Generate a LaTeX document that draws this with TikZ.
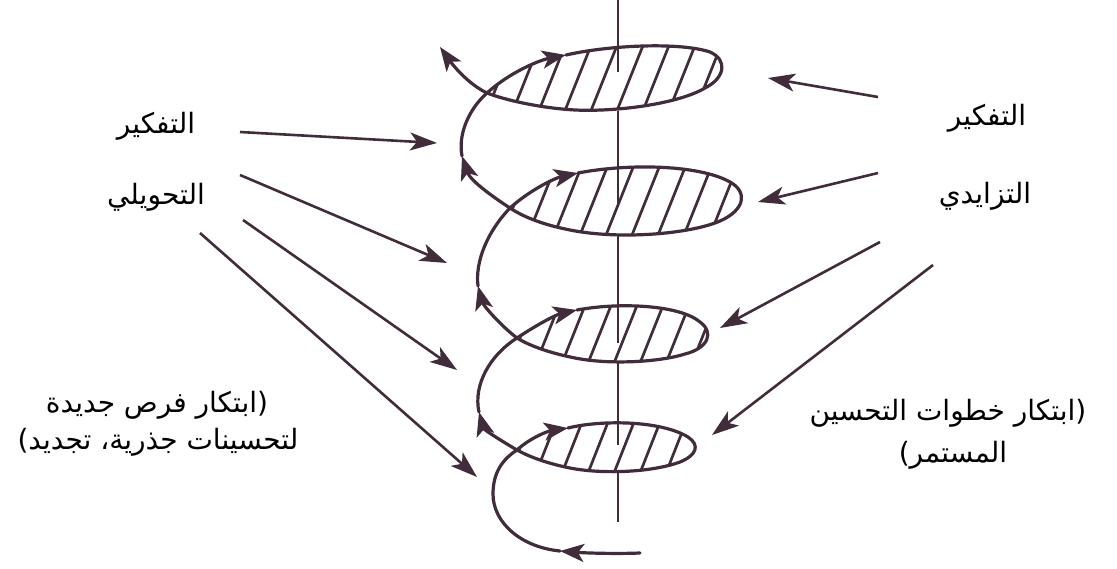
\documentclass[tikz,border=0pt]{standalone}
\usepackage{fontspec}
\newfontfamily\arabicfont[Script=Arabic]{DejaVu Sans}
\TeXXeTstate=1
\usetikzlibrary{arrows.meta}
\definecolor{ink}{RGB}{64,44,58}
\begin{document}
\begin{tikzpicture}[x=1pt,y=-1pt,
  inkline/.style={draw=ink, line width=3.2pt, line cap=round, line join=round},
  feed/.style={draw=ink, line width=2.6pt, -{Stealth[length=27pt,width=18pt,inset=7pt]}},
  flow/.style={inkline, -{Stealth[length=24pt,width=18pt,inset=6pt]}},
  hatch/.style={draw=ink, line width=2.7pt},
  axisline/.style={draw=ink, line width=2.6pt},
  lbl/.style={inner sep=0pt, text=black, font=\arabicfont\fontsize{28}{34}\selectfont}]

\fill[white] (0,0) rectangle (1117,568);
\useasboundingbox (0,0) rectangle (1117,568);

% ---- key points of the spiral
\coordinate (X1) at (487,93);
\coordinate (X2) at (510,208);
\coordinate (X3) at (517,338);
\coordinate (X4) at (517,450);
\coordinate (T1) at (566,55);
\coordinate (T2) at (578,173);
\coordinate (T3) at (577,310);
\coordinate (T4) at (568,428);
\coordinate (U1) at (440,47);
\coordinate (U2) at (462,156);
\coordinate (U3) at (478,286);
\coordinate (U4) at (479,412);
\coordinate (S0) at (640,553);
\coordinate (S1) at (560,551);

% ---- axis
\draw[axisline] (618,0) -- (618,72);
\draw[axisline] (618,111) -- (618,207);
\draw[axisline] (618,236) -- (618,343);
\draw[axisline] (618,363) -- (618,445);
\draw[axisline] (618,473) -- (618,522);

% ---- hatching
\begin{scope}
\clip (X1) .. controls (510,72) and (540,60) .. (T1) .. controls (610,45) and (680,42) .. (710,52) .. controls (728,60) and (725,78) .. (705,88) .. controls (680,103) and (620,112) .. (575,110) .. controls (540,108) and (505,100) .. (X1) -- cycle;
\foreach \x in {484,510,...,740} \draw[hatch] (\x,118) -- ++(32,-80);
\end{scope}
\begin{scope}
\clip (X2) .. controls (530,190) and (555,178) .. (T2) .. controls (630,163) and (700,165) .. (730,182) .. controls (748,192) and (745,210) .. (720,221) .. controls (690,234) and (620,240) .. (570,230) .. controls (545,225) and (525,218) .. (X2) -- cycle;
\foreach \x in {500,526,...,760} \draw[hatch] (\x,240) -- ++(32,-80);
\end{scope}
\begin{scope}
\clip (X3) .. controls (535,326) and (555,315) .. (T3) .. controls (620,302) and (680,305) .. (700,322) .. controls (714,332) and (709,348) .. (685,354) .. controls (660,362) and (610,365) .. (575,358) .. controls (550,353) and (530,346) .. (X3) -- cycle;
\foreach \x in {508,534,...,730} \draw[hatch] (\x,368) -- ++(28,-70);
\end{scope}
\begin{scope}
\clip (X4) .. controls (530,438) and (548,431) .. (T4) .. controls (600,420) and (660,420) .. (688,437) .. controls (700,445) and (697,455) .. (680,462) .. controls (650,473) and (600,474) .. (570,468) .. controls (545,463) and (528,456) .. (X4) -- cycle;
\foreach \x in {508,534,...,720} \draw[hatch] (\x,478) -- ++(26,-66);
\end{scope}

% ---- spiral
\draw[flow] (S0) .. controls (615,554) and (585,553) .. (S1);
\draw[flow] (S1) .. controls (520,547) and (493,522) .. (493,494) .. controls (493,472) and (503,459) .. (X4) .. controls (530,438) and (548,431) .. (T4);
\draw[flow] (T4) .. controls (600,420) and (660,420) .. (688,437) .. controls (700,445) and (697,455) .. (680,462) .. controls (650,473) and (600,474) .. (570,468) .. controls (545,463) and (528,456) .. (X4) .. controls (505,443) and (484,430) .. (U4);
\draw[flow] (U4) .. controls (473,385) and (490,355) .. (X3) .. controls (535,326) and (555,315) .. (T3);
\draw[flow] (T3) .. controls (620,302) and (680,305) .. (700,322) .. controls (714,332) and (709,348) .. (685,354) .. controls (660,362) and (610,365) .. (575,358) .. controls (550,353) and (530,346) .. (X3) .. controls (500,325) and (483,305) .. (U3);
\draw[flow] (U3) .. controls (475,262) and (487,232) .. (X2) .. controls (530,190) and (555,178) .. (T2);
\draw[flow] (T2) .. controls (630,163) and (700,165) .. (730,182) .. controls (748,192) and (745,210) .. (720,221) .. controls (690,234) and (620,240) .. (570,230) .. controls (545,225) and (525,218) .. (X2) .. controls (490,195) and (470,180) .. (U2);
\draw[flow] (U2) .. controls (458,135) and (468,110) .. (X1) .. controls (510,72) and (540,60) .. (T1);
\draw[flow] (T1) .. controls (610,45) and (680,42) .. (710,52) .. controls (728,60) and (725,78) .. (705,88) .. controls (680,103) and (620,112) .. (575,110) .. controls (540,108) and (505,100) .. (X1) .. controls (470,85) and (455,68) .. (U1);

% ---- labels
\node[lbl] (lt1) at (156,126) {\beginR التفكير\endR};
\node[lbl] (lt2) at (156,197) {\beginR التحويلي\endR};
\node[lbl] (rt1) at (987,118) {\beginR التفكير\endR};
\node[lbl] (rt2) at (985,196) {\beginR التزايدي\endR};
\node[lbl] (lb1) at (157,405) {\beginR (ابتكار فرص جديدة\endR};
\node[lbl] (lb2) at (158,442) {\beginR لتحسينات جذرية، تجديد)\endR};
\node[lbl] (rb1) at (948,413) {\beginR (ابتكار خطوات التحسين\endR};
\node[lbl] (rb2) at (953,455) {\beginR المستمر)\endR};

% ---- feeding arrows
\coordinate (a1s) at (240,132); \coordinate (a1e) at (437,143);
\coordinate (a2s) at (240,175); \coordinate (a2e) at (447,263);
\coordinate (a3s) at (243,220); \coordinate (a3e) at (457,370);
\coordinate (a4s) at (200,233); \coordinate (a4e) at (477,477);
\coordinate (b1s) at (878,97);  \coordinate (b1e) at (768,78);
\coordinate (b2s) at (878,173); \coordinate (b2e) at (758,202);
\coordinate (b3s) at (880,242); \coordinate (b3e) at (720,328);
\coordinate (b4s) at (933,265); \coordinate (b4e) at (712,435);
\draw[feed] (a1s) -- (a1e);
\draw[feed] (a2s) -- (a2e);
\draw[feed] (a3s) -- (a3e);
\draw[feed] (a4s) -- (a4e);
\draw[feed] (b1s) -- (b1e);
\draw[feed] (b2s) -- (b2e);
\draw[feed] (b3s) -- (b3e);
\draw[feed] (b4s) -- (b4e);
\end{tikzpicture}
\end{document}
